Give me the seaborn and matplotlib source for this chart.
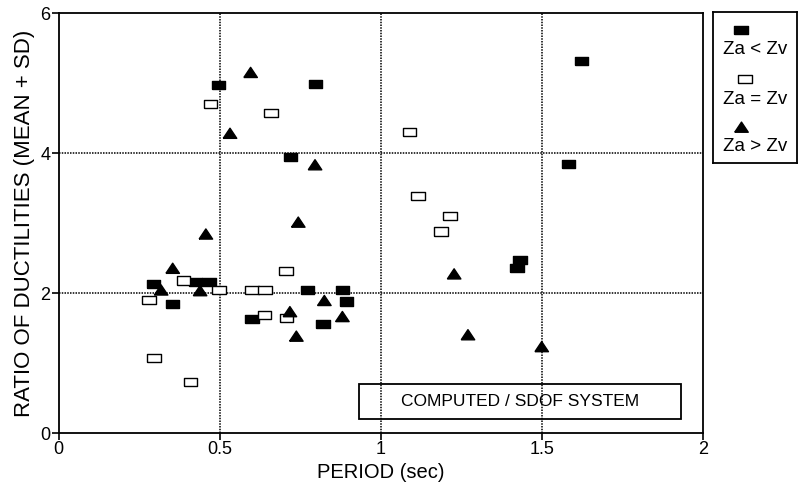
import numpy as np
import pandas as pd
import matplotlib
matplotlib.use("Agg")
import matplotlib.pyplot as plt
from matplotlib.patches import Rectangle
import seaborn as sns

# values
period_lt = [0.294, 0.354, 0.425, 0.467, 0.601, 0.773, 0.496, 0.797, 0.720, 0.882,
             0.894, 0.820, 1.583, 1.433, 1.424, 1.624]
ratio_lt = [2.13, 1.84, 2.16, 2.16, 1.63, 2.05, 4.98, 4.99, 3.94, 2.05,
            1.88, 1.56, 3.84, 2.47, 2.36, 5.32]

period_eq = [0.281, 0.296, 0.410, 0.387, 0.497, 0.601, 0.641, 0.706, 0.639, 0.708,
             0.471, 0.659, 1.089, 1.116, 1.215, 1.188]
ratio_eq = [1.90, 1.07, 0.73, 2.18, 2.04, 2.05, 2.04, 2.31, 1.69, 1.64,
            4.70, 4.57, 4.30, 3.39, 3.10, 2.88]

period_gt = [0.457, 0.354, 0.318, 0.439, 0.718, 0.738, 0.596, 0.532, 0.796, 0.744,
             0.825, 0.881, 1.228, 1.271, 1.500]
ratio_gt = [2.84, 2.35, 2.04, 2.03, 1.73, 1.38, 5.15, 4.28, 3.83, 3.01,
            1.89, 1.66, 2.27, 1.40, 1.23]

labels = ["Za < Zv", "Za = Zv", "Za > Zv"]
xticks = [0, 0.5, 1, 1.5, 2]
xticklabels = ["0", "0.5", "1", "1.5", "2"]
yticks = [0, 2, 4, 6]

df = pd.concat([
    pd.DataFrame({"period": period_lt, "ratio": ratio_lt, "case": labels[0]}),
    pd.DataFrame({"period": period_eq, "ratio": ratio_eq, "case": labels[1]}),
    pd.DataFrame({"period": period_gt, "ratio": ratio_gt, "case": labels[2]}),
])

sns.set_style("white")
plt.rcParams["font.family"] = ["Liberation Sans", "DejaVu Sans"]
plt.rcParams["text.color"] = "black"
plt.rcParams["axes.labelcolor"] = "black"
plt.rcParams["xtick.color"] = "black"
plt.rcParams["ytick.color"] = "black"

rect = [(-1, -0.6), (1, -0.6), (1, 0.6), (-1, 0.6), (-1, -0.6)]
tri = [(-1, -0.7), (1, -0.7), (0, 0.8), (-1, -0.7)]
markers = {labels[0]: rect, labels[1]: rect, labels[2]: tri}
palette = {labels[0]: "black", labels[1]: "white", labels[2]: "black"}

fig = plt.figure(figsize=(8.02, 4.83), dpi=100)
ax = fig.add_axes([58.7 / 802, 1 - 433 / 483, 644 / 802, 419.7 / 483])

for v in [0.5, 1, 1.5]:
    ax.axvline(v, color="black", lw=1.1, ls=(0, (1, 0.8)), zorder=0)
for v in [2, 4]:
    ax.axhline(v, color="black", lw=1.1, ls=(0, (1, 0.8)), zorder=0)

sns.scatterplot(data=df, x="period", y="ratio", hue="case", style="case",
                markers=markers, palette=palette, edgecolor="black",
                linewidth=1.0, s=95, legend=False, ax=ax, zorder=3, clip_on=False)

ax.set_xlim(0, 2)
ax.set_ylim(0, 6)
ax.set_xticks(xticks)
ax.set_xticklabels(xticklabels)
ax.set_yticks(yticks)
ax.tick_params(direction="out", length=5, width=1.2, labelsize=13, pad=1,
               bottom=True, left=True)
for s in ax.spines.values():
    s.set_color("black")
    s.set_linewidth(1.3)
ax.set_xlabel("PERIOD (sec)", fontsize=14.5, labelpad=3)
ax.set_ylabel("RATIO OF DUCTILITIES (MEAN + SD)", fontsize=16, labelpad=4)

# caption box
ax.add_patch(Rectangle((0.467, 0.0326), 0.499, 0.0834, transform=ax.transAxes,
                       fill=False, ec="black", lw=1.3, zorder=4))
ax.text(0.7165, 0.0743, "COMPUTED / SDOF SYSTEM", transform=ax.transAxes,
        ha="center", va="center", fontsize=12.5, zorder=5)

# legend box with markers above labels
lax = fig.add_axes([712.7 / 802, 1 - 163 / 483, 84.3 / 802, 151 / 483])
lax.set_xlim(0, 1)
lax.set_ylim(0, 1)
lax.set_xticks([])
lax.set_yticks([])
for s in lax.spines.values():
    s.set_color("black")
    s.set_linewidth(1.3)
mk_pos = [(0.33, 0.88), (0.38, 0.556), (0.34, 0.24)]
lab_pos = [0.75, 0.42, 0.11]
for i, lab in enumerate(labels):
    lax.scatter([mk_pos[i][0]], [mk_pos[i][1]], marker=markers[lab], s=95,
                c=palette[lab], edgecolors="black", linewidths=1.0)
    lax.text(0.5, lab_pos[i], lab, ha="center", va="center", fontsize=13.5)

fig.savefig("out.png", dpi=100)
